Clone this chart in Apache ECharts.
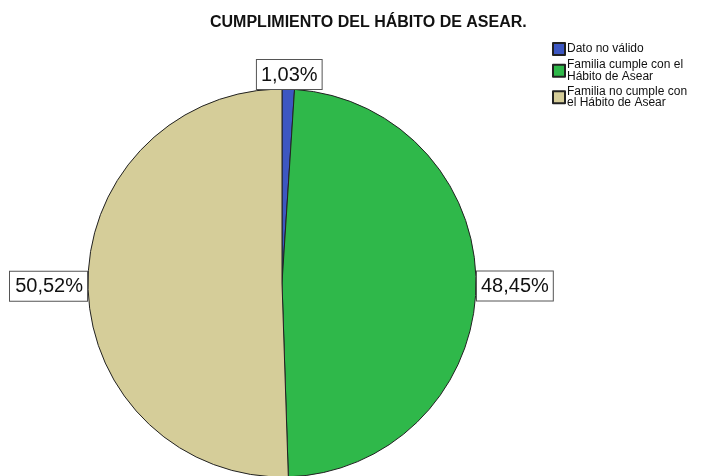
<!DOCTYPE html>
<html>
<head>
<meta charset="utf-8">
<script src="https://cdn.jsdelivr.net/npm/echarts@6/dist/echarts.min.js"></script>
<style>
  html, body { margin: 0; padding: 0; background: #fff; }
  #chart { width: 721px; height: 476px; }
</style>
</head>
<body>
<div id="chart"></div>
<script>
const categories = [
  'Dato no válido',
  'Familia cumple con el\nHábito de Asear',
  'Familia no cumple con\nel Hábito de Asear'
];
const percentages = [1.03, 48.45, 50.52];
const colors = ['#3d57c2', '#2fb84a', '#d5cd99'];

const chart = echarts.init(document.getElementById('chart'));

const option = {
  backgroundColor: '#fff',
  animation: false,
  title: {
    text: 'CUMPLIMIENTO DEL HÁBITO DE ASEAR.',
    left: 210,
    top: 15,
    padding: 0,
    textStyle: {
      fontFamily: 'Liberation Sans, Arial, sans-serif',
      fontSize: 16,
      fontWeight: 'bold',
      color: '#111'
    }
  },
  legend: {
    orient: 'vertical',
    left: 552,
    top: 42,
    padding: 0,
    itemWidth: 12,
    itemHeight: 12,
    itemGap: 3,
    icon: 'rect',
    selectedMode: false,
    textStyle: {
      fontFamily: 'Liberation Sans, Arial, sans-serif',
      fontSize: 12,
      lineHeight: 11.5,
      color: '#111',
      padding: [0, 0, 0, -3]
    },
    data: categories
  },
  series: [
    {
      type: 'pie',
      center: [282, 283],
      radius: 194,
      startAngle: 90,
      clockwise: true,
      silent: true,
      itemStyle: { borderColor: '#222', borderWidth: 1 },
      label: {
        show: true,
        position: 'outside',
        distanceToLabelLine: 1,
        fontFamily: 'Liberation Sans, Arial, sans-serif',
        fontSize: 20,
        color: '#111',
        backgroundColor: '#fff',
        borderColor: '#555',
        borderWidth: 1,
        padding: [5, 4, 4, 4],
        formatter: p => p.value.toFixed(2).replace('.', ',') + '%'
      },
      labelLine: { show: false, length: 0, length2: 0 },
      labelLayout: function (params) {
        if (params.dataIndex === 0) {
          return { align: 'center', verticalAlign: 'bottom' };
        }
        return {};
      },
      data: categories.map((name, i) => ({
        name: name,
        value: percentages[i],
        itemStyle: { color: colors[i] }
      }))
    }
  ]
};

chart.setOption(option);
</script>
</body>
</html>
